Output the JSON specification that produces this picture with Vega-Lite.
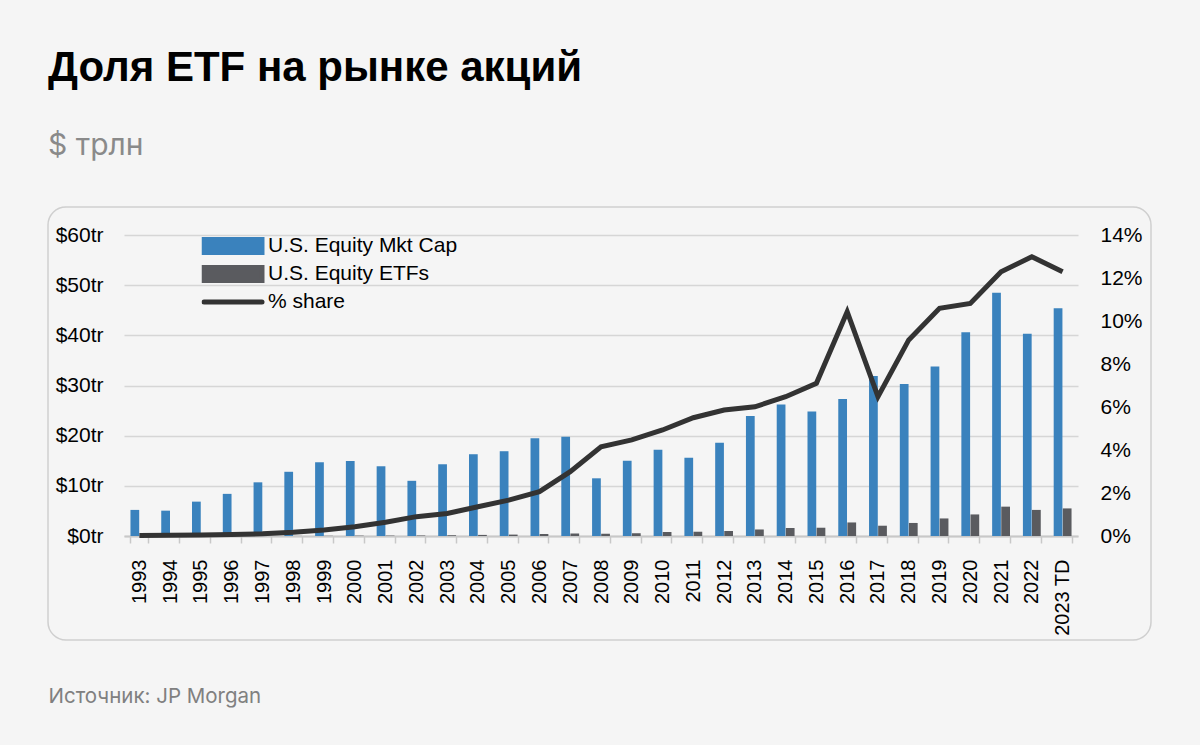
{
  "$schema": "https://vega.github.io/schema/vega-lite/v6.json",
  "autosize": "none",
  "width": 1103,
  "height": 433,
  "padding": {"left": 48, "top": 207, "right": 49, "bottom": 105},
  "background": "#f5f5f5",
  "title": {
    "text": "Доля ETF на рынке акций",
    "subtitle": "$ трлн",
    "anchor": "start",
    "frame": "group",
    "font": "Liberation Sans",
    "fontSize": 42,
    "fontWeight": "bold",
    "color": "#000000",
    "subtitleFont": "Inter",
    "subtitleFontSize": 30,
    "subtitleColor": "#8a8a8a",
    "subtitlePadding": 41,
    "offset": 45
  },
  "datasets": {
    "bars": [
      {"year": "1993", "series": "U.S. Equity Mkt Cap", "value": 5.2},
      {"year": "1994", "series": "U.S. Equity Mkt Cap", "value": 5.05},
      {"year": "1995", "series": "U.S. Equity Mkt Cap", "value": 6.85},
      {"year": "1996", "series": "U.S. Equity Mkt Cap", "value": 8.4},
      {"year": "1997", "series": "U.S. Equity Mkt Cap", "value": 10.7},
      {"year": "1998", "series": "U.S. Equity Mkt Cap", "value": 12.8},
      {"year": "1999", "series": "U.S. Equity Mkt Cap", "value": 14.7},
      {"year": "2000", "series": "U.S. Equity Mkt Cap", "value": 14.95},
      {"year": "2001", "series": "U.S. Equity Mkt Cap", "value": 13.9},
      {"year": "2002", "series": "U.S. Equity Mkt Cap", "value": 11.0},
      {"year": "2003", "series": "U.S. Equity Mkt Cap", "value": 14.3},
      {"year": "2004", "series": "U.S. Equity Mkt Cap", "value": 16.3},
      {"year": "2005", "series": "U.S. Equity Mkt Cap", "value": 16.9},
      {"year": "2006", "series": "U.S. Equity Mkt Cap", "value": 19.5},
      {"year": "2007", "series": "U.S. Equity Mkt Cap", "value": 19.8},
      {"year": "2008", "series": "U.S. Equity Mkt Cap", "value": 11.5},
      {"year": "2009", "series": "U.S. Equity Mkt Cap", "value": 15.0},
      {"year": "2010", "series": "U.S. Equity Mkt Cap", "value": 17.2},
      {"year": "2011", "series": "U.S. Equity Mkt Cap", "value": 15.6},
      {"year": "2012", "series": "U.S. Equity Mkt Cap", "value": 18.6},
      {"year": "2013", "series": "U.S. Equity Mkt Cap", "value": 23.9},
      {"year": "2014", "series": "U.S. Equity Mkt Cap", "value": 26.2},
      {"year": "2015", "series": "U.S. Equity Mkt Cap", "value": 24.8},
      {"year": "2016", "series": "U.S. Equity Mkt Cap", "value": 27.3},
      {"year": "2017", "series": "U.S. Equity Mkt Cap", "value": 31.9},
      {"year": "2018", "series": "U.S. Equity Mkt Cap", "value": 30.3},
      {"year": "2019", "series": "U.S. Equity Mkt Cap", "value": 33.8},
      {"year": "2020", "series": "U.S. Equity Mkt Cap", "value": 40.6},
      {"year": "2021", "series": "U.S. Equity Mkt Cap", "value": 48.5},
      {"year": "2022", "series": "U.S. Equity Mkt Cap", "value": 40.3},
      {"year": "2023 TD", "series": "U.S. Equity Mkt Cap", "value": 45.4},
      {"year": "1993", "series": "U.S. Equity ETFs", "value": 0.01},
      {"year": "1994", "series": "U.S. Equity ETFs", "value": 0.01},
      {"year": "1995", "series": "U.S. Equity ETFs", "value": 0.01},
      {"year": "1996", "series": "U.S. Equity ETFs", "value": 0.01},
      {"year": "1997", "series": "U.S. Equity ETFs", "value": 0.02},
      {"year": "1998", "series": "U.S. Equity ETFs", "value": 0.02},
      {"year": "1999", "series": "U.S. Equity ETFs", "value": 0.04},
      {"year": "2000", "series": "U.S. Equity ETFs", "value": 0.07},
      {"year": "2001", "series": "U.S. Equity ETFs", "value": 0.08},
      {"year": "2002", "series": "U.S. Equity ETFs", "value": 0.1},
      {"year": "2003", "series": "U.S. Equity ETFs", "value": 0.15},
      {"year": "2004", "series": "U.S. Equity ETFs", "value": 0.22},
      {"year": "2005", "series": "U.S. Equity ETFs", "value": 0.28},
      {"year": "2006", "series": "U.S. Equity ETFs", "value": 0.4},
      {"year": "2007", "series": "U.S. Equity ETFs", "value": 0.5},
      {"year": "2008", "series": "U.S. Equity ETFs", "value": 0.45},
      {"year": "2009", "series": "U.S. Equity ETFs", "value": 0.55},
      {"year": "2010", "series": "U.S. Equity ETFs", "value": 0.8},
      {"year": "2011", "series": "U.S. Equity ETFs", "value": 0.85},
      {"year": "2012", "series": "U.S. Equity ETFs", "value": 1.0},
      {"year": "2013", "series": "U.S. Equity ETFs", "value": 1.3},
      {"year": "2014", "series": "U.S. Equity ETFs", "value": 1.6},
      {"year": "2015", "series": "U.S. Equity ETFs", "value": 1.65},
      {"year": "2016", "series": "U.S. Equity ETFs", "value": 2.7},
      {"year": "2017", "series": "U.S. Equity ETFs", "value": 2.05},
      {"year": "2018", "series": "U.S. Equity ETFs", "value": 2.6},
      {"year": "2019", "series": "U.S. Equity ETFs", "value": 3.5},
      {"year": "2020", "series": "U.S. Equity ETFs", "value": 4.3},
      {"year": "2021", "series": "U.S. Equity ETFs", "value": 5.85},
      {"year": "2022", "series": "U.S. Equity ETFs", "value": 5.2},
      {"year": "2023 TD", "series": "U.S. Equity ETFs", "value": 5.5}
    ],
    "share": [
      {"year": "1993", "share": 0.02},
      {"year": "1994", "share": 0.03},
      {"year": "1995", "share": 0.05},
      {"year": "1996", "share": 0.07},
      {"year": "1997", "share": 0.1},
      {"year": "1998", "share": 0.17},
      {"year": "1999", "share": 0.28},
      {"year": "2000", "share": 0.43},
      {"year": "2001", "share": 0.64},
      {"year": "2002", "share": 0.9},
      {"year": "2003", "share": 1.05},
      {"year": "2004", "share": 1.36},
      {"year": "2005", "share": 1.67},
      {"year": "2006", "share": 2.06},
      {"year": "2007", "share": 2.99},
      {"year": "2008", "share": 4.15},
      {"year": "2009", "share": 4.47},
      {"year": "2010", "share": 4.93},
      {"year": "2011", "share": 5.5},
      {"year": "2012", "share": 5.86},
      {"year": "2013", "share": 6.01},
      {"year": "2014", "share": 6.48},
      {"year": "2015", "share": 7.1},
      {"year": "2016", "share": 10.43},
      {"year": "2017", "share": 6.48},
      {"year": "2018", "share": 9.12},
      {"year": "2019", "share": 10.59},
      {"year": "2020", "share": 10.82},
      {"year": "2021", "share": 12.29},
      {"year": "2022", "share": 12.99},
      {"year": "2023 TD", "share": 12.29}
    ]
  },
  "layer": [
    {
      "data": {"name": "bars"},
      "mark": {"type": "bar"},
      "encoding": {
        "x": {
          "field": "year",
          "type": "nominal",
          "scale": {"range": [76, 1030], "paddingInner": 0.42, "paddingOuter": 0.21},
          "axis": {
            "orient": "bottom",
            "offset": -104,
            "labelAngle": -90,
            "labelFont": "Liberation Sans",
            "labelFontSize": 20,
            "labelColor": "#000000",
            "labelPadding": 16,
            "labelOverlap": false,
            "labelBound": false,
            "labelFlush": false,
            "tickBand": "extent",
            "tickSize": 7,
            "tickColor": "#c8c8c8",
            "tickWidth": 1.5,
            "domainColor": "#c8c8c8",
            "domainWidth": 2,
            "grid": false,
            "title": "Источник: JP Morgan",
            "titleX": 0,
            "titleY": 166,
            "titleAlign": "left",
            "titleBaseline": "alphabetic",
            "titleAngle": 0,
            "titleFont": "Inter",
            "titleFontSize": 20.5,
            "titleFontWeight": "normal",
            "titleColor": "#808080"
          }
        },
        "xOffset": {
          "field": "series",
          "type": "nominal",
          "sort": ["U.S. Equity Mkt Cap", "U.S. Equity ETFs"],
          "scale": {"paddingInner": 0.04}
        },
        "y": {
          "field": "value",
          "type": "quantitative",
          "scale": {"domain": [0, 60], "range": [329, 28], "nice": false},
          "axis": {
            "orient": "left",
            "offset": -59,
            "values": [0, 10, 20, 30, 40, 50, 60],
            "labelExpr": "'$' + datum.value + 'tr'",
            "labelFont": "Liberation Sans",
            "labelFontSize": 21,
            "labelColor": "#000000",
            "labelPadding": 4,
            "ticks": false,
            "tickSize": 0,
            "domain": false,
            "grid": true,
            "gridColor": "#d6d6d6",
            "gridWidth": 1.5,
            "title": null
          }
        },
        "color": {
          "field": "series",
          "type": "nominal",
          "scale": {
            "domain": ["U.S. Equity Mkt Cap", "U.S. Equity ETFs", "% share"],
            "range": ["#3a82bd", "#5a5b5f", "#333333"]
          },
          "legend": {
            "orient": "none",
            "legendX": 153.5,
            "legendY": 29,
            "title": null,
            "padding": 0,
            "symbolSize": 3364,
            "symbolStrokeWidth": 5,
            "clipHeight": 20,
            "rowPadding": 7,
            "labelOffset": 3.5,
            "labelFont": "Liberation Sans",
            "labelFontSize": 21,
            "labelColor": "#000000",
            "labelLimit": 400,
            "encode": {
              "symbols": {
                "update": {
                  "shape": {"signal": "datum.value === '% share' ? 'M-1,0H1' : 'M-1,-0.22H1V0.22H-1Z'"},
                  "fill": {"signal": "datum.value === '% share' ? 'transparent' : (datum.value === 'U.S. Equity ETFs' ? '#5a5b5f' : '#3a82bd')"},
                  "stroke": {"signal": "datum.value === '% share' ? '#333333' : 'transparent'"},
                  "strokeCap": {"value": "round"},
                  "opacity": {"value": 1}
                }
              }
            }
          }
        }
      }
    },
    {
      "data": {"name": "share"},
      "mark": {"type": "line", "strokeWidth": 5, "strokeJoin": "miter"},
      "encoding": {
        "x": {"field": "year", "type": "nominal"},
        "y": {
          "field": "share",
          "type": "quantitative",
          "scale": {"domain": [0, 14], "range": [329, 28], "nice": false},
          "axis": {
            "orient": "right",
            "offset": -55,
            "values": [0, 2, 4, 6, 8, 10, 12, 14],
            "labelExpr": "datum.value + '%'",
            "labelFont": "Liberation Sans",
            "labelFontSize": 21,
            "labelColor": "#000000",
            "labelPadding": 4,
            "ticks": false,
            "tickSize": 0,
            "domain": false,
            "grid": false,
            "title": null
          }
        },
        "color": {"datum": "% share"}
      }
    }
  ],
  "resolve": {"scale": {"y": "independent"}},
  "config": {
    "view": {"stroke": "#cfcfcf", "strokeWidth": 1.5, "cornerRadius": 18, "fill": "#f5f5f5"}
  }
}
